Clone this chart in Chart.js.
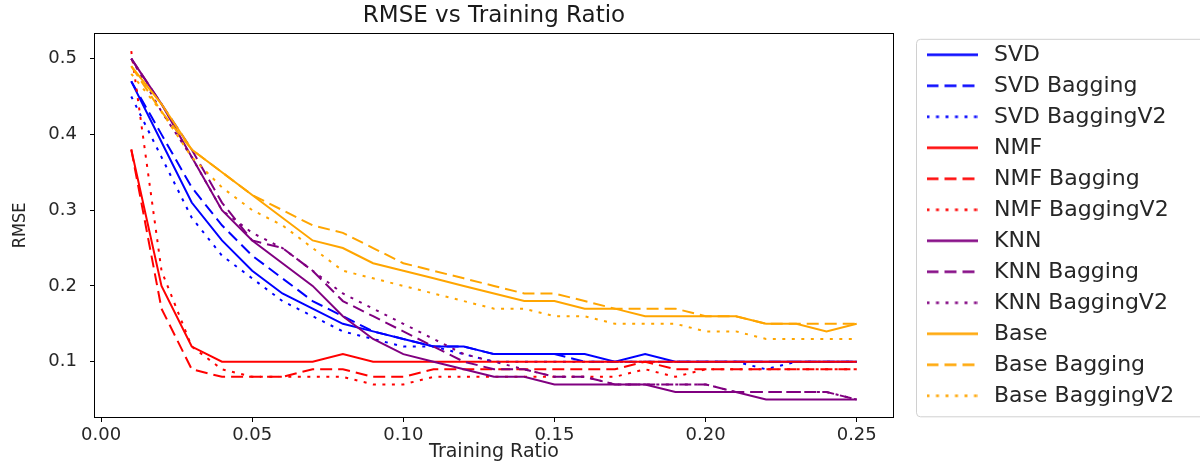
<!DOCTYPE html>
<html>
<head>
<meta charset="utf-8">
<script src="https://cdn.jsdelivr.net/npm/chart.js@4.4.1/dist/chart.umd.min.js"></script>
<style>
  html, body { margin: 0; padding: 0; background: #fff; }
  #wrap { width: 1200px; height: 463px; }
</style>
</head>
<body>
<div id="wrap"><canvas id="rmseChart" width="1200" height="463"></canvas></div>
<script>
// x values (training ratio) and axis ticks
const ratios = [0.01, 0.02, 0.03, 0.04, 0.05, 0.06, 0.07, 0.08, 0.09, 0.10, 0.11, 0.12, 0.13,
  0.14, 0.15, 0.16, 0.17, 0.18, 0.19, 0.20, 0.21, 0.22, 0.23, 0.24, 0.25];
const xTicks = [0, 0.05, 0.10, 0.15, 0.20, 0.25];
const yTicks = [0.1, 0.2, 0.3, 0.4, 0.5];

// RMSE per model
const svd        = [0.47, 0.39, 0.31, 0.26, 0.22, 0.19, 0.17, 0.15, 0.14, 0.13, 0.12, 0.12, 0.11, 0.11, 0.11, 0.11, 0.10, 0.11, 0.10, 0.10, 0.10, 0.10, 0.10, 0.10, 0.10];
const svdBag     = [0.47, 0.40, 0.33, 0.28, 0.24, 0.21, 0.18, 0.16, 0.14, 0.13, 0.12, 0.12, 0.11, 0.11, 0.11, 0.10, 0.10, 0.10, 0.10, 0.10, 0.10, 0.10, 0.10, 0.10, 0.10];
const svdBagV2   = [0.45, 0.37, 0.29, 0.24, 0.21, 0.18, 0.16, 0.14, 0.13, 0.12, 0.12, 0.11, 0.10, 0.10, 0.10, 0.10, 0.10, 0.10, 0.10, 0.10, 0.10, 0.09, 0.10, 0.10, 0.10];
const nmf        = [0.38, 0.20, 0.12, 0.10, 0.10, 0.10, 0.10, 0.11, 0.10, 0.10, 0.10, 0.10, 0.10, 0.10, 0.10, 0.10, 0.10, 0.10, 0.10, 0.10, 0.10, 0.10, 0.10, 0.10, 0.10];
const nmfBag     = [0.38, 0.17, 0.09, 0.08, 0.08, 0.08, 0.09, 0.09, 0.08, 0.08, 0.09, 0.09, 0.09, 0.09, 0.09, 0.09, 0.09, 0.10, 0.09, 0.09, 0.09, 0.09, 0.09, 0.09, 0.09];
const nmfBagV2   = [0.51, 0.22, 0.12, 0.09, 0.08, 0.08, 0.08, 0.08, 0.07, 0.07, 0.08, 0.08, 0.08, 0.08, 0.08, 0.08, 0.08, 0.09, 0.08, 0.09, 0.09, 0.09, 0.09, 0.09, 0.09];
const knn        = [0.50, 0.44, 0.37, 0.30, 0.26, 0.23, 0.20, 0.16, 0.13, 0.11, 0.10, 0.09, 0.08, 0.08, 0.07, 0.07, 0.07, 0.07, 0.06, 0.06, 0.06, 0.05, 0.05, 0.05, 0.05];
const knnBag     = [0.50, 0.44, 0.38, 0.31, 0.26, 0.25, 0.22, 0.18, 0.16, 0.14, 0.12, 0.10, 0.09, 0.09, 0.08, 0.08, 0.07, 0.07, 0.07, 0.07, 0.06, 0.06, 0.06, 0.06, 0.05];
const knnBagV2   = [0.50, 0.43, 0.37, 0.30, 0.27, 0.25, 0.22, 0.19, 0.17, 0.15, 0.13, 0.11, 0.10, 0.09, 0.08, 0.08, 0.07, 0.07, 0.07, 0.07, 0.06, 0.06, 0.06, 0.06, 0.05];
const base       = [0.49, 0.44, 0.38, 0.35, 0.32, 0.29, 0.26, 0.25, 0.23, 0.22, 0.21, 0.20, 0.19, 0.18, 0.18, 0.17, 0.17, 0.16, 0.16, 0.16, 0.16, 0.15, 0.15, 0.14, 0.15];
const baseBag    = [0.49, 0.43, 0.38, 0.35, 0.32, 0.30, 0.28, 0.27, 0.25, 0.23, 0.22, 0.21, 0.20, 0.19, 0.19, 0.18, 0.17, 0.17, 0.17, 0.16, 0.16, 0.15, 0.15, 0.15, 0.15];
const baseBagV2  = [0.48, 0.43, 0.37, 0.33, 0.30, 0.28, 0.25, 0.22, 0.21, 0.20, 0.19, 0.18, 0.17, 0.17, 0.16, 0.16, 0.15, 0.15, 0.15, 0.14, 0.14, 0.13, 0.13, 0.13, 0.13];

const SOLID = [];
const DASHED = [12, 6];
const DOTTED = [3, 6.5];

const series = [
  ["SVD", svd, "#0000ff", SOLID],
  ["SVD Bagging", svdBag, "#0000ff", DASHED],
  ["SVD BaggingV2", svdBagV2, "#0000ff", DOTTED],
  ["NMF", nmf, "#ff0000", SOLID],
  ["NMF Bagging", nmfBag, "#ff0000", DASHED],
  ["NMF BaggingV2", nmfBagV2, "#ff0000", DOTTED],
  ["KNN", knn, "#800080", SOLID],
  ["KNN Bagging", knnBag, "#800080", DASHED],
  ["KNN BaggingV2", knnBagV2, "#800080", DOTTED],
  ["Base", base, "#ffa500", SOLID],
  ["Base Bagging", baseBag, "#ffa500", DASHED],
  ["Base BaggingV2", baseBagV2, "#ffa500", DOTTED],
];

const LEGEND_W = 307;   // legend box width (frame right edge ends up at 893)
const LEGEND_GAP = 19;  // space between plot frame and legend

// small line sample for the legend, so dashes show there too
function lineSample(color, dash) {
  const c = document.createElement("canvas");
  c.width = 51;
  c.height = 5;
  const g = c.getContext("2d");
  g.strokeStyle = color;
  g.lineWidth = 2.5;
  g.setLineDash(dash);
  g.beginPath();
  g.moveTo(0, 2.5);
  g.lineTo(51, 2.5);
  g.stroke();
  return c;
}

// frame around the plot area (matplotlib spines)
const framePlugin = {
  id: "frame",
  afterDatasetsDraw(chart) {
    const { ctx, chartArea: a } = chart;
    ctx.save();
    ctx.strokeStyle = "#000";
    ctx.lineWidth = 1;
    ctx.strokeRect(Math.round(a.left) - 0.5, Math.round(a.top) - 0.5,
      Math.round(a.right - a.left) + 1, Math.round(a.bottom - a.top) + 1);
    ctx.restore();
  },
};

// fixed-width legend pushed off the frame, with a rounded border
const legendBoxPlugin = {
  id: "legendBox",
  beforeLayout(chart) {
    const lg = chart.legend;
    if (lg && !lg._fixedWidth) {
      const fit = lg.fit;
      lg.fit = function () { fit.call(this); this.width = LEGEND_W; };
      lg._fixedWidth = true;
    }
  },
  afterLayout(chart) {
    chart.legend.left += LEGEND_GAP;
    chart.legend.right += LEGEND_GAP;
  },
  afterDraw(chart) {
    const lg = chart.legend;
    const boxes = lg.legendHitBoxes;
    if (!boxes || !boxes.length) return;
    const first = boxes[0];
    const last = boxes[boxes.length - 1];
    const top = first.top + first.height / 2 - 15.5;
    const bottom = last.top + last.height / 2 + 21;
    const left = lg.left + 4.5;
    const { ctx } = chart;
    ctx.save();
    ctx.strokeStyle = "#d0d0d0";
    ctx.lineWidth = 1;
    ctx.beginPath();
    ctx.roundRect(left, top, 1210 - left, bottom - top, 4);
    ctx.stroke();
    ctx.restore();
  },
};

Chart.defaults.font.family = "'DejaVu Sans', sans-serif";

const ctx = document.getElementById("rmseChart");
new Chart(ctx, {
  type: "line",
  data: {
    datasets: series.map(([label, values, color, dash], i) => ({
      label,
      data: ratios.map((r, k) => ({ x: r, y: values[k] })),
      borderColor: color,
      backgroundColor: color,
      borderWidth: 2,
      borderDash: dash,
      pointRadius: 0,
      pointStyle: lineSample(color, dash),
      tension: 0,
      fill: false,
      order: series.length - 1 - i, // later series on top, like matplotlib
    })),
  },
  options: {
    responsive: false,
    animation: false,
    layout: { padding: 0 },
    plugins: {
      title: {
        display: true,
        text: "RMSE vs Training Ratio",
        color: "#1a1a1a",
        fullSize: false,
        font: { size: 23, weight: "normal" },
        padding: { top: 2, bottom: 4 },
      },
      legend: {
        position: "right",
        fullSize: false,
        align: "center",
        labels: {
          usePointStyle: true,
          pointStyleWidth: 62,
          padding: 9,
          color: "#262626",
          font: { size: 22 },
          sort: (a, b) => a.datasetIndex - b.datasetIndex,
        },
      },
      tooltip: { enabled: false },
    },
    scales: {
      x: {
        type: "linear",
        min: -0.002,
        max: 0.262,
        afterBuildTicks: (s) => { s.ticks = xTicks.map((v) => ({ value: v })); },
        afterFit: (s) => { s.height = 46; },
        grid: { display: true, drawOnChartArea: false, drawTicks: true, tickLength: 5, tickColor: "#000" },
        border: { display: false },
        ticks: { color: "#262626", font: { size: 18 }, padding: 3, maxRotation: 0, callback: (v) => v.toFixed(2) },
        title: { display: true, text: "Training Ratio", color: "#262626", font: { size: 19 }, padding: { top: 0, bottom: 0 } },
      },
      y: {
        type: "linear",
        min: 0.027,
        max: 0.533,
        afterBuildTicks: (s) => { s.ticks = yTicks.map((v) => ({ value: v })); },
        afterFit: (s) => { s.width = 95; },
        grid: { display: true, drawOnChartArea: false, drawTicks: true, tickLength: 5, tickColor: "#000" },
        border: { display: false },
        ticks: { color: "#262626", font: { size: 18 }, padding: 13, callback: (v) => v.toFixed(1) },
        title: {
          display: true,
          text: "RMSE",
          color: "#262626",
          font: { size: 18, family: "'Liberation Sans Narrow', 'DejaVu Sans Condensed', sans-serif" },
          padding: { top: 10, bottom: 0 },
        },
      },
    },
  },
  plugins: [framePlugin, legendBoxPlugin],
});
</script>
</body>
</html>
